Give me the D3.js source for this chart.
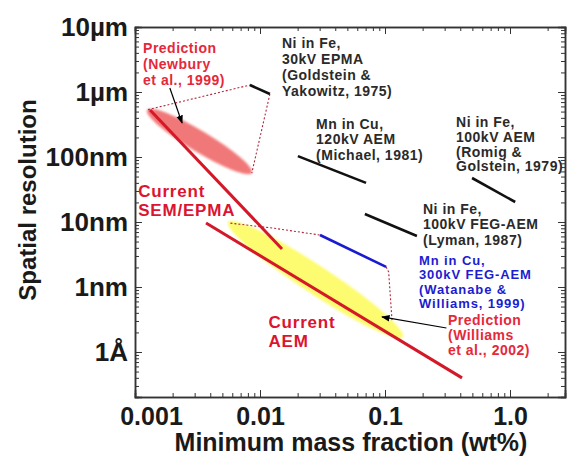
<!DOCTYPE html>
<html>
<head>
<meta charset="utf-8">
<script src="https://cdn.jsdelivr.net/npm/d3@7"></script>
<style>
  body { margin: 0; background: #fff; }
  text { font-family: "Liberation Sans", Arial, sans-serif; font-weight: bold; }
</style>
</head>
<body>
<div id="chart"></div>
<script>
// ---------------- data (x = wt%, y = nm) ----------------
let xTicks = [0.001, 0.01, 0.1, 1];
let xTickLabels = ["0.001", "0.01", "0.1", "1.0"];
let yTicks = [1e4, 1e3, 100, 10, 1, 0.1];
let yTickLabels = ["10\u00b5m", "1\u00b5m", "100nm", "10nm", "1nm", "1\u00c5"];

// measured results (short black / blue segments)
let goldstein = [[0.0083, 1280], [0.012, 930]];
let michael = [[0.0201, 103], [0.0705, 40]];
let romig = [[0.497, 47.5], [1.1, 20.3]];
let lyman = [[0.069, 13.3], [0.18, 6.1]];
let watanabe = [[0.0302, 6.3], [0.102, 2.04]];

// current limits (red lines)
let currentSEM = [[0.00132, 528], [0.015, 3.85]];
let currentAEM = [[0.0037, 9.66], [0.413, 0.04]];

// predictions (ellipse end points)
let newburyEllipse = [[0.00125, 528], [0.0086, 56.7]];
let williamsEllipse = [[0.00555, 10], [0.139, 0.17]];

// dotted guide lines
let newburyGuides = [
  [[0.00127, 535], [0.0083, 1280]],
  [[0.012, 930], [0.0086, 56.7]]
];
let williamsGuides = [
  [[0.0058, 9.6], [0.013, 8.0], [0.0302, 6.3]],
  [[0.102, 2.04], [0.107, 1.7], [0.114, 0.29]]
];

// pointer arrows
let arrows = [
  [[0.0019, 1150], [0.00238, 333]],
  [[0.31, 0.234], [0.0946, 0.346]]
];

// annotations: anchor (x, y of first baseline), line step
let notes = [
  {x: 0.00116, y: 4000, color: "#e5283a", size: 14, step: 16, lines: ["Prediction", "(Newbury", "et al., 1999)"]},
  {x: 0.015, y: 4750, color: "#2a2a2a", size: 14, step: 16, lines: ["Ni in Fe,", "30kV EPMA", "(Goldstein &", "Yakowitz, 1975)"]},
  {x: 0.0281, y: 270, color: "#2a2a2a", size: 14, step: 15.5, lines: ["Mn in Cu,", "120kV AEM", "(Michael, 1981)"]},
  {x: 0.37, y: 290, color: "#2a2a2a", size: 14, step: 14.8, lines: ["Ni in Fe,", "100kV AEM", "(Romig &", "Golstein, 1979)"]},
  {x: 0.2014, y: 13.3, color: "#2a2a2a", size: 14, step: 15.5, lines: ["Ni in Fe,", "100kV FEG-AEM", "(Lyman, 1987)"]},
  {x: 0.187, y: 2.18, color: "#1c1cd0", size: 13, step: 14.4, lines: ["Mn in Cu,", "300kV FEG-AEM", "(Watanabe &", "Williams, 1999)"]},
  {x: 0.319, y: 0.26, color: "#e5283a", size: 14, step: 15, lines: ["Prediction", "(Williams", "et al., 2002)"]},
  {x: 0.00106, y: 24.3, color: "#dc1430", size: 17, step: 19, lines: ["Current", "SEM/EPMA"]},
  {x: 0.0117, y: 0.234, color: "#dc1430", size: 17, step: 19, lines: ["Current", "AEM"]}
];

// ---------------- layout ----------------
let width = 567, height = 457;
let plotLeft = 135, plotRight = 565, plotTop = 27, plotBottom = 397;

let svg = d3.select("#chart").append("svg")
  .attr("width", width)
  .attr("height", height);

let xScale = d3.scaleLog().domain([0.001, 2.754]).range([plotLeft, plotRight]);
let yScale = d3.scaleLog().domain([0.0203, 1e4]).range([plotBottom, plotTop]);

let defs = svg.append("defs");
defs.append("marker").attr("id", "arrow")
  .attr("viewBox", "0 0 10 10").attr("refX", 9).attr("refY", 5)
  .attr("markerWidth", 7).attr("markerHeight", 7).attr("orient", "auto")
  .append("path").attr("d", "M0,1 L10,5 L0,9 Z").attr("fill", "#000");
defs.append("filter").attr("id", "soft")
  .append("feGaussianBlur").attr("stdDeviation", 1.2);

// minor ticks for a log domain
function minorTicks(domain) {
  let out = [];
  let lo = Math.floor(Math.log10(domain[0])), hi = Math.ceil(Math.log10(domain[1]));
  for (let e = lo; e <= hi; e++) {
    for (let m = 2; m <= 9; m++) {
      let v = m * Math.pow(10, e);
      if (v > domain[0] && v < domain[1]) out.push(v);
    }
  }
  return out;
}

// ---------------- axes ----------------
let axisStyle = function(g) {
  g.select(".domain").attr("stroke", "#333").attr("stroke-width", 1.5);
  g.selectAll(".tick line").attr("stroke", "#333").attr("stroke-width", 1);
};
let xMinor = minorTicks(xScale.domain());
let yMinor = minorTicks(yScale.domain());

// bottom
svg.append("g").attr("transform", `translate(0,${plotBottom})`)
  .call(d3.axisBottom(xScale).tickValues(xMinor).tickSize(-4).tickFormat(""))
  .call(axisStyle);
let xAx = svg.append("g").attr("transform", `translate(0,${plotBottom})`)
  .call(d3.axisBottom(xScale).tickValues(xTicks).tickSize(-7).tickPadding(10)
    .tickFormat((d, i) => xTickLabels[i]))
  .call(axisStyle);
xAx.selectAll("text").attr("font-size", 25).attr("fill", "#1a1a1a")
  .attr("dx", (d, i) => i === 0 ? 16 : 0);
// top
svg.append("g").attr("transform", `translate(0,${plotTop})`)
  .call(d3.axisTop(xScale).tickValues(xMinor).tickSize(-4).tickFormat(""))
  .call(axisStyle);
svg.append("g").attr("transform", `translate(0,${plotTop})`)
  .call(d3.axisTop(xScale).tickValues(xTicks).tickSize(-7).tickFormat(""))
  .call(axisStyle);
// left
svg.append("g").attr("transform", `translate(${plotLeft},0)`)
  .call(d3.axisLeft(yScale).tickValues(yMinor).tickSize(-4).tickFormat(""))
  .call(axisStyle);
let yAx = svg.append("g").attr("transform", `translate(${plotLeft},0)`)
  .call(d3.axisLeft(yScale).tickValues(yTicks).tickSize(-7).tickPadding(7)
    .tickFormat((d, i) => yTickLabels[i]))
  .call(axisStyle);
yAx.selectAll("text").attr("font-size", 26).attr("fill", "#1a1a1a");
// right
svg.append("g").attr("transform", `translate(${plotRight},0)`)
  .call(d3.axisRight(yScale).tickValues(yMinor).tickSize(-4).tickFormat(""))
  .call(axisStyle);
svg.append("g").attr("transform", `translate(${plotRight},0)`)
  .call(d3.axisRight(yScale).tickValues(yTicks).tickSize(-7).tickFormat(""))
  .call(axisStyle);

// axis titles
svg.append("text").attr("x", 351).attr("y", 451).attr("text-anchor", "middle")
  .attr("font-size", 25).attr("fill", "#1a1a1a").text("Minimum mass fraction (wt%)");
svg.append("text").attr("transform", "translate(36,200) rotate(-90)")
  .attr("text-anchor", "middle").attr("font-size", 24).attr("fill", "#1a1a1a")
  .text("Spatial resolution");

// ---------------- marks ----------------
let px = p => [xScale(p[0]), yScale(p[1])];
let line = d3.line().x(d => xScale(d[0])).y(d => yScale(d[1]));

function drawEllipse(ends, halfWidth, fill, opacity) {
  let a = px(ends[0]), b = px(ends[1]);
  let cx = (a[0] + b[0]) / 2, cy = (a[1] + b[1]) / 2;
  let rx = Math.hypot(b[0] - a[0], b[1] - a[1]) / 2;
  let ang = Math.atan2(b[1] - a[1], b[0] - a[0]) * 180 / Math.PI;
  svg.append("ellipse")
    .attr("transform", `translate(${cx},${cy}) rotate(${ang})`)
    .attr("rx", rx).attr("ry", halfWidth)
    .attr("fill", fill).attr("fill-opacity", opacity)
    .attr("filter", "url(#soft)");
}
drawEllipse(williamsEllipse, 14, "#fdfa55", 0.85);
drawEllipse(newburyEllipse, 10.5, "#f06a6a", 0.9);

// dotted guides
svg.append("g").selectAll("path").data(newburyGuides.concat(williamsGuides)).enter()
  .append("path").attr("d", line)
  .attr("fill", "none").attr("stroke", "#b0283c").attr("stroke-width", 1.1)
  .attr("stroke-dasharray", "2,2");

// red current lines
svg.append("g").selectAll("path").data([currentSEM, currentAEM]).enter()
  .append("path").attr("d", line)
  .attr("fill", "none").attr("stroke", "#d41828").attr("stroke-width", 3);

// measured segments
svg.append("g").selectAll("path").data([goldstein, michael, romig, lyman]).enter()
  .append("path").attr("d", line)
  .attr("fill", "none").attr("stroke", "#111").attr("stroke-width", 2.6);
svg.append("path").datum(watanabe).attr("d", line)
  .attr("fill", "none").attr("stroke", "#1a1ad0").attr("stroke-width", 2.6);

// arrows
svg.append("g").selectAll("path").data(arrows).enter()
  .append("path").attr("d", line)
  .attr("fill", "none").attr("stroke", "#000").attr("stroke-width", 1.2)
  .attr("marker-end", "url(#arrow)");

// annotations
notes.forEach(function(n) {
  let t = svg.append("text")
    .attr("x", xScale(n.x)).attr("y", yScale(n.y))
    .attr("font-size", n.size).attr("fill", n.color)
    .attr("letter-spacing", n.size > 15 ? 0.8 : (n.size < 14 ? 0.9 : 0.5));
  t.selectAll("tspan").data(n.lines).enter().append("tspan")
    .attr("x", xScale(n.x))
    .attr("dy", (d, i) => i === 0 ? 0 : n.step)
    .text(d => d);
});
</script>
</body>
</html>
